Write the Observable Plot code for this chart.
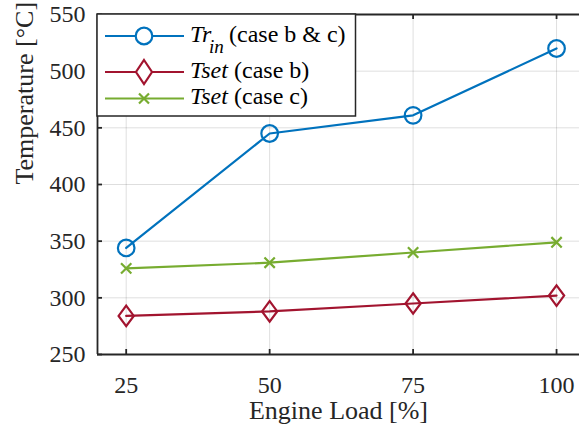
<!DOCTYPE html>
<html>
<head>
<meta charset="utf-8">
<script src="https://cdn.jsdelivr.net/npm/d3@7"></script>
<script src="https://cdn.jsdelivr.net/npm/@observablehq/plot@0.6"></script>
<style>
  html, body { margin: 0; padding: 0; background: #fff; }
  #wrap { position: relative; width: 579px; height: 432px; overflow: hidden; }
  #legend { position: absolute; left: 0; top: 0; pointer-events: none; }
</style>
</head>
<body>
<div id="wrap"></div>
<script>
// ---- data ----
const loads = [25, 50, 75, 100];
const trIn  = [344, 445, 461, 520];
const tsetB = [284, 288, 295, 302];
const tsetC = [326, 331, 340, 349];
const xTicks = [25, 50, 75, 100];
const yTicks = [250, 300, 350, 400, 450, 500, 550];

const BLUE = "#0072BD", RED = "#A2142F", GREEN = "#77AC30", AX = "#262626";
const FONT = "Liberation Serif";

const rows = loads.map((l, i) => ({load: l, tr: trIn[i], b: tsetB[i], c: tsetC[i]}));

const diamond = {
  draw(ctx, size) {
    const r = Math.sqrt(size / Math.PI);
    ctx.moveTo(0, -1.35 * r); ctx.lineTo(r, 0); ctx.lineTo(0, 1.35 * r); ctx.lineTo(-r, 0); ctx.closePath();
  }
};
const cross = {
  draw(ctx, size) {
    const r = Math.sqrt(size / Math.PI) * 0.68;
    ctx.moveTo(-r, -r); ctx.lineTo(r, r); ctx.moveTo(r, -r); ctx.lineTo(-r, r);
  }
};

const W = 579, H = 432, ML = 97, MR = 0, MT = 14, MB = 78;
const FW = W - ML - MR, FH = H - MT - MB;

const chart = Plot.plot({
  width: W, height: H,
  marginLeft: ML, marginRight: MR, marginTop: MT, marginBottom: MB,
  x: {domain: [20, 104]},
  y: {domain: [250, 550]},
  style: {fontFamily: FONT, fontSize: "24px", color: AX, background: "#fff"},
  marks: [
    Plot.gridX(xTicks, {stroke: "#000", strokeOpacity: 0.13, strokeWidth: 1}),
    Plot.gridY(yTicks, {stroke: "#000", strokeOpacity: 0.13, strokeWidth: 1}),
    Plot.axisX({ticks: xTicks, tickSize: 0, tickPadding: 21, fontSize: 24, fontFamily: FONT, fontVariant: "normal", label: null, fill: AX}),
    Plot.axisY({ticks: yTicks, tickSize: 0, tickPadding: 12, fontSize: 24, fontFamily: FONT, fontVariant: "normal", label: null, fill: AX}),
    Plot.text(["Engine Load [%]"], {frameAnchor: "bottom", dy: 64, fontSize: 26, fontFamily: FONT, fill: AX}),
    Plot.text(["Temperature [°C]"], {frameAnchor: "left", rotate: -90, dx: -73, fontSize: 26, fontFamily: FONT, fill: AX}),
    // axes box lines
    Plot.ruleY([250], {stroke: AX, strokeWidth: 1.8}),
    Plot.ruleY([550], {stroke: AX, strokeWidth: 1.8}),
    Plot.ruleX([20], {stroke: AX, strokeWidth: 1.8}),
    // inward ticks
    Plot.ruleX(xTicks, {stroke: AX, strokeWidth: 1.8, insetTop: FH - 5}),
    Plot.ruleX(xTicks, {stroke: AX, strokeWidth: 1.8, insetBottom: FH - 5}),
    Plot.ruleY(yTicks, {stroke: AX, strokeWidth: 1.8, insetRight: FW - 5}),
    // series
    Plot.line(rows, {x: "load", y: "tr", stroke: BLUE, strokeWidth: 2.2}),
    Plot.dot(rows, {x: "load", y: "tr", stroke: BLUE, strokeWidth: 2.2, fill: "none", symbol: "circle", r: 8.3}),
    Plot.line(rows, {x: "load", y: "b", stroke: RED, strokeWidth: 2.2}),
    Plot.dot(rows, {x: "load", y: "b", stroke: RED, strokeWidth: 2.2, fill: "none", symbol: diamond, r: 7.6}),
    Plot.line(rows, {x: "load", y: "c", stroke: GREEN, strokeWidth: 2.2}),
    Plot.dot(rows, {x: "load", y: "c", stroke: GREEN, strokeWidth: 2.2, fill: "none", symbol: cross, r: 7.6})
  ]
});
document.getElementById("wrap").appendChild(chart);

// ---- legend overlay ----
const NS = "http://www.w3.org/2000/svg";
const lg = document.createElementNS(NS, "svg");
lg.setAttribute("id", "legend");
lg.setAttribute("width", W); lg.setAttribute("height", H);
const T = `font-family="${FONT}" font-size="24" fill="#000"`;
lg.innerHTML = `
  <rect x="97" y="14" width="258.5" height="102" fill="#fff" stroke="${AX}" stroke-width="1.5"/>
  <line x1="105" x2="184" y1="36" y2="36" stroke="${BLUE}" stroke-width="2.2"/>
  <circle cx="144" cy="36" r="8.3" fill="#fff" stroke="${BLUE}" stroke-width="2.2"/>
  <line x1="105" x2="184" y1="72" y2="72" stroke="${RED}" stroke-width="2.2"/>
  <path d="M144,60 L152,72 L144,84 L136,72 Z" fill="#fff" stroke="${RED}" stroke-width="2.2"/>
  <line x1="105" x2="184" y1="98.5" y2="98.5" stroke="${GREEN}" stroke-width="2.2"/>
  <path d="M139,93.5 L149,103.5 M149,93.5 L139,103.5" stroke="${GREEN}" stroke-width="2.2"/>
  <text x="190" y="42" ${T} font-style="italic">Tr</text>
  <text x="209" y="53" font-family="${FONT}" font-size="19" fill="#000" font-style="italic">in</text>
  <text x="229" y="42" ${T}>(case b &amp; c)</text>
  <text x="190" y="78" ${T} font-style="italic">Tset</text>
  <text x="234" y="78" ${T}>(case b)</text>
  <text x="190" y="103.5" ${T} font-style="italic">Tset</text>
  <text x="234" y="103.5" ${T}>(case c)</text>
`;
document.getElementById("wrap").appendChild(lg);
</script>
</body>
</html>
